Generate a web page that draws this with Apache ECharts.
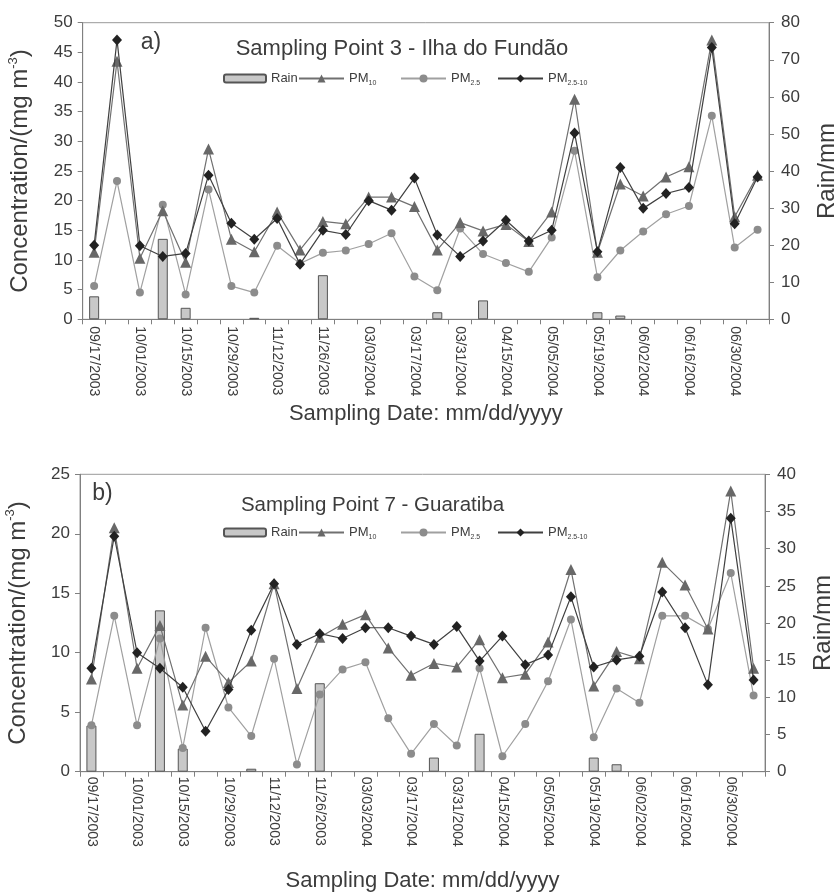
<!DOCTYPE html>
<html><head><meta charset="utf-8">
<script src="https://cdn.jsdelivr.net/npm/echarts@6/dist/echarts.min.js"></script>
<style>html,body{margin:0;padding:0;background:#fff}#c{width:835px;height:894px}</style>
</head><body><div id="c"></div>
<script>
const categories = ['09/17/2003','09/24/2003','10/01/2003','10/08/2003','10/15/2003','10/22/2003','10/29/2003','11/05/2003','11/12/2003','11/19/2003','11/26/2003','12/03/2003','03/03/2004','03/10/2004','03/17/2004','03/24/2004','03/31/2004','04/07/2004','04/15/2004','04/22/2004','05/05/2004','05/12/2004','05/19/2004','05/26/2004','06/02/2004','06/09/2004','06/16/2004','06/23/2004','06/30/2004','07/07/2004'];
const rain = [6.2,null,null,21.7,3.1,null,null,0.4,null,null,11.9,null,null,null,null,1.9,null,5.1,null,null,null,null,1.9,1.0,null,null,null,null,null,null];
const pm10A = [11.3,43.5,10.3,18.3,9.6,28.7,13.5,11.4,18.1,11.7,16.5,16.1,20.6,20.6,19.0,11.7,16.3,14.9,16.0,13.1,18.1,37.1,11.3,22.8,20.8,24.0,25.7,47.1,17.3,24.3];
const pm25A = [5.6,23.3,4.5,19.3,4.2,21.9,5.6,4.5,12.4,9.4,11.2,11.6,12.7,14.5,7.2,4.9,15.3,11.0,9.5,8.0,13.8,28.4,7.1,11.6,14.8,17.7,19.1,34.3,12.1,15.1];
const pm2510A = [12.5,47.1,12.4,10.6,11.1,24.3,16.2,13.5,17.0,9.3,15.0,14.3,20.0,18.4,23.8,14.2,10.6,13.2,16.7,13.2,15.0,31.4,11.4,25.6,18.7,21.2,22.2,45.8,16.1,24.0];
const pm10B = [7.8,20.5,8.7,12.3,5.6,9.7,7.5,9.3,15.8,7.0,11.3,12.4,13.2,10.4,8.1,9.1,8.8,11.1,7.9,8.2,10.9,17.0,7.2,10.1,9.5,17.6,15.7,12.0,23.6,8.7];
const pm25B = [3.9,13.1,3.9,11.2,2.0,12.1,5.4,3.0,9.5,0.6,6.5,8.6,9.2,4.5,1.5,4.0,2.2,8.7,1.3,4.0,7.6,12.8,2.9,7.0,5.8,13.1,13.1,12.0,16.7,6.4];
const pm2510B = [8.7,19.8,10.0,8.7,7.1,3.4,6.9,11.9,15.8,10.7,11.6,11.2,12.1,12.1,11.4,10.7,12.2,9.3,11.4,9.0,9.8,14.7,8.8,9.4,9.7,15.1,12.1,7.3,21.3,7.7];

const FONT = "'Liberation Sans', Arial, sans-serif";
const TXT = '#3c3c3c';
const AX = '#808080';
const chart = echarts.init(document.getElementById('c'), null, {renderer:'canvas'});

function xAxis(gi, gap, margin){
  return {type:'category', gridIndex:gi, data:categories, boundaryGap:true,
    axisLine:{lineStyle:{color:AX,width:1}},
    axisTick:{show:true, interval:0, length:5, lineStyle:{color:AX}},
    axisLabel:{interval:1, rotate:-90, fontSize:14, color:TXT, fontFamily:FONT, margin:margin},
    name:'Sampling Date: mm/dd/yyyy', nameLocation:'middle', nameGap:gap,
    nameTextStyle:{fontSize:22, color:TXT, fontFamily:FONT}};
}
function yLeft(gi, max){
  return {type:'value', gridIndex:gi, position:'left', min:0, max:max, interval:5,
    axisLine:{show:true, lineStyle:{color:AX}}, axisTick:{show:true, length:5, lineStyle:{color:AX}},
    splitLine:{show:false},
    axisLabel:{fontSize:17, color:TXT, fontFamily:FONT, margin:10},
    name:'{t|Concentration/(mg m}{s|-3}{t|)}', nameLocation:'middle', nameGap:48, nameRotate:90,
    nameTextStyle:{color:TXT, fontFamily:FONT, rich:{t:{fontSize:24, color:TXT, fontFamily:FONT, lineHeight:28}, s:{fontSize:13, color:TXT, fontFamily:FONT, verticalAlign:'top', lineHeight:14}}}};
}
function yRight(gi, max, iv){
  return {type:'value', gridIndex:gi, position:'right', min:0, max:max, interval:iv,
    axisLine:{show:true, lineStyle:{color:AX}}, axisTick:{show:true, length:5, lineStyle:{color:AX}},
    splitLine:{show:false},
    axisLabel:{fontSize:17, color:TXT, fontFamily:FONT, margin:12},
    name:'Rain/mm', nameLocation:'middle', nameGap:46, nameRotate:90,
    nameTextStyle:{fontSize:24, color:TXT, fontFamily:FONT}};
}
function series(xi, yl, yr, r, p10, p25, p2510){
  return [
    {name:'Rain', type:'bar', xAxisIndex:xi, yAxisIndex:yr, data:r, barWidth:10,
      itemStyle:{color:'#c8c8c8', borderColor:'#555', borderWidth:1}, z:1},
    {name:'PM10', type:'line', xAxisIndex:xi, yAxisIndex:yl, data:p10, symbol:'triangle', symbolSize:11,
      lineStyle:{color:'#707070', width:1.2}, itemStyle:{color:'#686868'}, z:3},
    {name:'PM2.5', type:'line', xAxisIndex:xi, yAxisIndex:yl, data:p25, symbol:'circle', symbolSize:8,
      lineStyle:{color:'#a0a0a0', width:1.2}, itemStyle:{color:'#8c8c8c'}, z:2},
    {name:'PM2.5-10', type:'line', xAxisIndex:xi, yAxisIndex:yl, data:p2510, symbol:'diamond', symbolSize:[10,11],
      lineStyle:{color:'#404040', width:1.2}, itemStyle:{color:'#222'}, z:4}
  ];
}
const legRich = {m:{fontSize:13, color:TXT, fontFamily:FONT, lineHeight:16}, s:{fontSize:7, color:TXT, fontFamily:FONT, verticalAlign:'bottom', lineHeight:10}};
const legFmt = n => n==='Rain' ? '{m|Rain}' : n==='PM10' ? '{m|PM}{s|10}' : n==='PM2.5' ? '{m|PM}{s|2.5}' : '{m|PM}{s|2.5-10}';
function legends(cy){
  const items = [['Rain',218,42,8],['PM10',293,45,10],['PM2.5',395,45,10],['PM2.5-10',492,45,10]];
  return items.map(([n,x,w,h]) => ({data:[n], left:x, top:cy-8, itemWidth:w, itemHeight:h, itemGap:0,
    formatter:legFmt, textStyle:{rich:legRich, color:TXT}, selectedMode:false}));
}

chart.setOption({
  animation:false,
  textStyle:{fontFamily:FONT},
  grid:[
    {left:82.7, top:22.7, width:686.3, height:296.6, show:true, borderColor:'#999', borderWidth:1, containLabel:false, outerBoundsMode:'none'},
    {left:80, top:474.3, width:685, height:297.4, show:true, borderColor:'#999', borderWidth:1, containLabel:false, outerBoundsMode:'none'}
  ],
  xAxis:[xAxis(0, 84, 7), xAxis(1, 98, 5)],
  yAxis:[yLeft(0,50), yRight(0,80,10), yLeft(1,25), yRight(1,40,5)],
  legend:[...legends(75), ...legends(529)],
  graphic:[
    {type:'text', x:151, y:43, style:{text:'a)', fontSize:23, fontFamily:FONT, fill:TXT, textAlign:'center', textVerticalAlign:'middle'}},
    {type:'text', x:402, y:49, style:{text:'Sampling Point 3 - Ilha do Fundão', fontSize:22, fontFamily:FONT, fill:TXT, textAlign:'center', textVerticalAlign:'middle'}},
    {type:'text', x:102.5, y:494, style:{text:'b)', fontSize:23, fontFamily:FONT, fill:TXT, textAlign:'center', textVerticalAlign:'middle'}},
    {type:'text', x:372.5, y:505, style:{text:'Sampling Point 7 - Guaratiba', fontSize:20.5, fontFamily:FONT, fill:TXT, textAlign:'center', textVerticalAlign:'middle'}}
  ],
  series:[...series(0,0,1,rain,pm10A,pm25A,pm2510A), ...series(1,2,3,rain,pm10B,pm25B,pm2510B)]
});
</script></body></html>
